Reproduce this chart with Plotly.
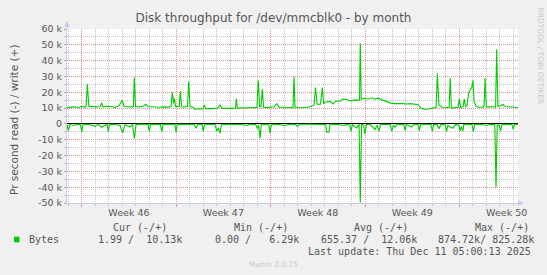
import pandas as pd
import plotly.graph_objects as go

# ---------------- data ----------------
BASE = "2025-11-09 00:00"          # first major (weekly) grid line
range_days = [-1.09, 32.34]        # visible period, days relative to BASE

write_days = [-1.09, -0.87, -0.57, -0.27, 0.02, 0.24, 0.32, 0.42, 0.53, 0.76,
              1.06, 1.36, 1.48, 1.58, 1.88, 2.17, 2.47, 2.77, 2.99, 3.14,
              3.43, 3.73, 3.83, 3.90, 3.99, 4.25, 4.54, 4.74, 4.91, 5.21,
              5.51, 5.80, 6.10, 6.40, 6.62, 6.72, 6.80, 6.87, 6.96, 7.14,
              7.23, 7.31, 7.40, 7.58, 7.84, 7.93, 8.03, 8.25, 8.40, 8.70,
              8.99, 9.09, 9.21, 9.51, 9.81, 10.10, 10.25, 10.40, 10.70, 10.99,
              11.29, 11.40, 11.46, 11.53, 11.81, 12.11, 12.40, 12.70, 12.99, 13.09,
              13.19, 13.29, 13.39, 13.48, 13.74, 14.03, 14.26, 14.46, 14.63, 14.92,
              15.22, 15.52, 15.66, 15.74, 15.81, 16.11, 16.40, 16.70, 17.00, 17.22,
              17.33, 17.45, 17.60, 17.70, 17.84, 17.93, 18.11, 18.41, 18.63, 18.85,
              19.15, 19.37, 19.67, 19.96, 20.26, 20.48, 20.59, 20.65, 20.72, 20.93,
              21.22, 21.52, 21.74, 21.96, 22.26, 22.56, 22.85, 23.15, 23.45, 23.74,
              24.04, 24.34, 24.63, 24.93, 25.16, 25.45, 25.75, 26.05, 26.27, 26.36,
              26.48, 26.71, 27.01, 27.23, 27.32, 27.40, 27.67, 27.89, 27.99, 28.08,
              28.27, 28.36, 28.45, 28.56, 28.69, 28.80, 28.91, 29.00, 29.09, 29.24,
              29.46, 29.76, 29.83, 29.90, 29.99, 30.19, 30.42, 30.68, 30.76, 30.85,
              31.01, 31.25, 31.38, 31.67, 31.97, 32.34]
write_kbytes = [10.3, 10.5, 10.8, 10.4, 11.0, 10.6, 10.8, 25.0, 11.0, 11.2,
                10.8, 11.0, 13.4, 10.8, 11.2, 11.0, 10.4, 11.5, 15.0, 11.0,
                10.8, 10.8, 11.0, 29.4, 11.0, 10.8, 11.2, 12.4, 11.0, 10.8,
                11.0, 10.5, 10.8, 10.6, 11.0, 20.0, 13.0, 16.0, 11.0, 11.0,
                11.0, 20.6, 11.0, 10.8, 11.0, 27.0, 11.0, 10.5, 9.3, 9.6,
                9.4, 12.0, 9.5, 9.8, 9.6, 10.2, 12.0, 9.8, 9.7, 10.0,
                9.8, 10.0, 16.0, 10.0, 10.1, 9.8, 10.2, 10.0, 10.4, 27.6,
                11.0, 11.0, 21.9, 10.5, 10.3, 10.6, 10.8, 12.8, 10.6, 10.5,
                10.2, 10.4, 10.3, 29.7, 10.6, 10.2, 10.1, 10.4, 11.2, 12.0,
                23.0, 12.5, 12.4, 12.5, 23.0, 13.0, 13.8, 14.2, 12.6, 14.5,
                14.3, 15.8, 15.3, 14.5, 15.2, 14.8, 15.0, 51.0, 15.5, 16.2,
                15.8, 16.5, 15.6, 16.3, 15.2, 14.3, 13.3, 12.8, 13.0, 12.9,
                12.6, 12.8, 12.5, 12.3, 9.8, 9.3, 9.4, 10.0, 10.5, 31.9,
                12.0, 10.5, 10.6, 10.4, 29.0, 10.0, 10.3, 10.4, 16.0, 10.4,
                10.8, 15.7, 11.0, 11.5, 20.0, 22.0, 23.0, 27.6, 14.0, 11.0,
                10.5, 10.6, 12.0, 29.0, 11.0, 10.6, 11.0, 10.6, 47.2, 11.0,
                11.5, 12.3, 11.0, 10.8, 10.2, 10.4]

read_days = [-1.09, -0.99, -0.87, -0.57, -0.35, -0.09, 0.00, 0.10, 0.47, 0.99,
             1.21, 1.48, 1.65, 1.88, 1.97, 2.06, 2.47, 2.84, 3.04, 3.21,
             3.58, 3.77, 3.90, 4.03, 4.47, 4.91, 5.01, 5.10, 5.51, 5.84,
             5.93, 6.03, 6.55, 6.91, 6.99, 7.09, 7.58, 8.03, 8.33, 8.47,
             8.62, 8.92, 9.01, 9.11, 9.51, 9.88, 10.01, 10.13, 10.25, 10.36,
             10.85, 11.36, 11.81, 12.23, 12.48, 12.89, 13.02, 13.11, 13.22, 13.31,
             13.59, 13.86, 13.96, 14.06, 14.55, 15.07, 15.44, 15.81, 15.98, 16.18,
             16.78, 17.30, 17.66, 18.07, 18.16, 18.31, 18.41, 18.93, 19.39, 19.67,
             19.87, 19.97, 20.06, 20.38, 20.56, 20.65, 20.74, 20.90, 21.00, 21.10,
             21.37, 21.74, 21.89, 22.04, 22.15, 22.56, 22.88, 22.98, 23.11, 23.22,
             23.37, 23.87, 23.97, 24.06, 24.46, 24.63, 24.93, 25.03, 25.12, 25.52,
             25.89, 25.99, 26.09, 26.34, 26.48, 26.63, 26.95, 27.04, 27.14, 27.42,
             27.54, 27.71, 27.95, 28.04, 28.14, 28.24, 28.33, 28.71, 28.93, 29.03,
             29.13, 29.53, 30.02, 30.27, 30.62, 30.71, 30.80, 30.96, 31.05, 31.15,
             31.59, 31.89, 31.99, 32.08, 32.34]
read_kbytes = [-0.3, -4.3, -0.4, -1.0, -0.2, -0.3, -5.3, -0.3, -0.2, -1.5,
               -0.3, -2.1, -1.2, -0.3, -4.7, -0.3, -0.2, -1.0, -5.7, -0.4,
               -2.0, -0.3, -9.2, -0.3, -0.2, -0.3, -4.7, -0.3, -0.2, -0.3,
               -4.9, -0.3, -0.2, -0.3, -5.3, -0.3, -0.2, -0.2, -0.3, -2.8,
               -0.3, -0.4, -4.7, -0.3, -0.2, -0.4, -4.5, -2.5, -6.0, -0.3,
               -0.2, -0.2, -0.4, -1.0, -0.3, -0.4, -3.0, -0.8, -9.2, -0.3,
               -0.2, -0.3, -5.7, -0.3, -0.2, -1.0, -0.2, -0.3, -1.5, -0.2,
               -0.2, -0.3, -0.2, -0.4, -5.3, -5.3, -0.3, -0.2, -1.0, -0.3,
               -0.8, -4.7, -0.4, -2.5, -0.3, -49.6, -0.4, -0.8, -6.4, -0.4,
               -0.3, -3.5, -0.8, -4.5, -0.3, -0.2, -0.4, -4.5, -1.0, -2.0,
               -0.3, -0.4, -4.3, -0.3, -2.0, -0.3, -0.4, -4.3, -0.3, -0.2,
               -0.4, -4.7, -0.3, -0.4, -3.0, -0.3, -0.5, -4.9, -1.0, -2.5,
               -2.5, -0.3, -0.8, -4.5, -1.5, -4.5, -0.3, -0.2, -0.4, -4.9,
               -0.3, -0.2, -1.0, -0.3, -0.4, -40.0, -0.8, -0.8, -4.5, -0.3,
               -0.2, -0.3, -3.5, -0.3, -0.3]

week_start_days = [0, 7, 14, 21, 28]
week_center_days = [3.5, 10.5, 17.5, 24.5, 31.5]
week_labels = ["Week 46", "Week 47", "Week 48", "Week 49", "Week 50"]

y_tick_vals = [-50000, -40000, -30000, -20000, -10000, 0,
               10000, 20000, 30000, 40000, 50000, 60000]
y_tick_text = ["-50 k", "-40 k", "-30 k", "-20 k", "-10 k", "0",
               "10 k", "20 k", "30 k", "40 k", "50 k", "60 k"]
y_range = [-50000, 60000]

title_text = "Disk throughput for /dev/mmcblk0 - by month"
y_title = "Pr second read (-) / write (+)"
series_name = "Bytes"
legend_headers = ["Cur (-/+)", "Min (-/+)", "Avg (-/+)", "Max (-/+)"]
legend_values = ["1.99 /  10.13k", "0.00 /   6.29k", "655.37 /  12.06k", "874.72k/ 825.28k"]
last_update = "Last update: Thu Dec 11 05:00:13 2025"
watermark = "RRDTOOL / TOBI OETIKER"
footer = "Munin 2.0.75"

# ---------------- build ----------------
base = pd.Timestamp(BASE)
def to_time(days):
    return base + pd.to_timedelta(pd.Series(days, dtype=float), unit="D")

write_t = to_time(write_days)
read_t = to_time(read_days)
x_range = list(to_time(range_days))
week_ticks = list(to_time(week_start_days))
week_centers = list(to_time(week_center_days))

W, H = 547, 275
L, R, T, B = 67, 29, 29, 72
PW, PH = W - L - R, H - T - B

def px_x(px):
    return (px - L) / PW

def px_y(py):
    return (H - B - py) / PH

GREEN = "#00cc00"
TXT = "#555555"
MGRID = "#e28f8f"
GRID = "#c4c4c4"
AXIS = "#c8c8f0"
SANS = "DejaVu Sans"
MONO = "DejaVu Sans Mono"

fig = go.Figure()
fig.add_trace(go.Scatter(x=read_t, y=[v * 1000 for v in read_kbytes], mode="lines",
                         line=dict(color=GREEN, width=1.1), name="read",
                         showlegend=False))
fig.add_trace(go.Scatter(x=write_t, y=[v * 1000 for v in write_kbytes], mode="lines",
                         line=dict(color=GREEN, width=1.1), name="write",
                         showlegend=False))
# invisible carrier trace for the week-label axis
fig.add_trace(go.Scatter(x=week_centers, y=[0] * len(week_centers), xaxis="x2",
                         mode="markers", marker=dict(opacity=0), hoverinfo="skip",
                         showlegend=False))

fig.update_layout(
    width=W, height=H,
    margin=dict(l=L, r=R, t=T, b=B, pad=0),
    paper_bgcolor="#f0f0f0",
    plot_bgcolor="#ffffff",
    showlegend=False,
    title=dict(text=title_text, x=0.5, xanchor="center", xref="container",
               y=1 - 18 / H, yanchor="middle", yref="container",
               font=dict(family=SANS, size=12, color=TXT)),
    xaxis=dict(type="date", range=x_range, tickvals=week_ticks, showticklabels=False,
               showgrid=True, gridcolor=MGRID, griddash="1px,1px", gridwidth=1,
               ticks="outside", ticklen=3, tickcolor=MGRID,
               showline=True, linecolor=AXIS, linewidth=1, zeroline=False,
               minor=dict(dtick=86400000, tick0=BASE, showgrid=True, gridcolor=GRID,
                          griddash="1px,1px", gridwidth=1, ticks="outside",
                          ticklen=2, tickcolor=GRID)),
    xaxis2=dict(type="date", range=x_range, overlaying="x", anchor="y", side="bottom",
                tickvals=week_centers, ticktext=week_labels, showgrid=False,
                ticks="", showline=False, zeroline=False, ticklabelstandoff=2,
                tickfont=dict(family=SANS, size=9.5, color=TXT)),
    yaxis=dict(range=y_range, tickvals=y_tick_vals, ticktext=y_tick_text,
               showgrid=True, gridcolor=MGRID, griddash="1px,1px", gridwidth=1,
               ticks="outside", ticklen=2, tickcolor=MGRID,
               tickfont=dict(family=SANS, size=9.5, color=TXT),
               showline=True, linecolor=AXIS, linewidth=1,
               zeroline=True, zerolinecolor="#000000", zerolinewidth=1,
               minor=dict(dtick=5000, tick0=0, showgrid=True, gridcolor=GRID,
                          griddash="1px,1px", gridwidth=1, ticks="outside",
                          ticklen=2, tickcolor=GRID)),
)

ann = []
ann.append(dict(text=y_title, xref="paper", yref="paper", x=px_x(14), y=px_y(120),
                xanchor="center", yanchor="middle", textangle=-90, showarrow=False,
                font=dict(family=SANS, size=10.5, color=TXT)))
ann.append(dict(text=watermark, xref="paper", yref="paper", x=px_x(540), y=px_y(5),
                xanchor="center", yanchor="top", textangle=90, showarrow=False,
                font=dict(family=SANS, size=7.5, color="#c8c8c8")))
header_x = [111, 231.7, 352.3, 473]
value_x = [96, 213.3, 319, 436.3]
for hx, htxt in zip(header_x, legend_headers):
    ann.append(dict(text=htxt.replace(" ", "\u00a0"), xref="paper", yref="paper",
                    x=px_x(hx), y=px_y(227.7), xanchor="left", yanchor="middle",
                    showarrow=False, font=dict(family=MONO, size=10, color=TXT)))
for vx, vtxt in zip(value_x, legend_values):
    ann.append(dict(text=vtxt.replace(" ", "\u00a0"), xref="paper", yref="paper",
                    x=px_x(vx), y=px_y(239.3), xanchor="left", yanchor="middle",
                    showarrow=False, font=dict(family=MONO, size=10, color=TXT)))
ann.append(dict(text=series_name, xref="paper", yref="paper", x=px_x(26.5), y=px_y(239.3),
                xanchor="left", yanchor="middle", showarrow=False,
                font=dict(family=MONO, size=10, color=TXT)))
ann.append(dict(text=last_update.replace(" ", "\u00a0"), xref="paper", yref="paper",
                x=px_x(533), y=px_y(251), xanchor="right", yanchor="middle",
                showarrow=False, font=dict(family=MONO, size=10, color=TXT)))
ann.append(dict(text=footer, xref="paper", yref="paper", x=px_x(273), y=px_y(264),
                xanchor="center", yanchor="middle", showarrow=False,
                font=dict(family=SANS, size=7.5, color="#c8c8c8")))
fig.update_layout(annotations=ann)

shapes = []
# legend colour box
shapes.append(dict(type="rect", xref="paper", yref="paper",
                   x0=px_x(14), x1=px_x(19.5), y0=px_y(242.3), y1=px_y(236.7),
                   fillcolor=GREEN, line=dict(width=0)))
# axis arrows
shapes.append(dict(type="line", xref="paper", yref="paper",
                   x0=0, x1=0, y0=1, y1=px_y(25), line=dict(color=AXIS, width=1)))
shapes.append(dict(type="path", xref="paper", yref="paper",
                   path=f"M {px_x(64.5)} {px_y(26.5)} L {px_x(67)} {px_y(21.5)} L {px_x(69.5)} {px_y(26.5)} Z",
                   fillcolor=AXIS, line=dict(color=AXIS, width=0.5)))
shapes.append(dict(type="line", xref="paper", yref="paper",
                   x0=1, x1=px_x(520), y0=0, y1=0, line=dict(color=AXIS, width=1)))
shapes.append(dict(type="path", xref="paper", yref="paper",
                   path=f"M {px_x(518.5)} {px_y(200.5)} L {px_x(523.5)} {px_y(203)} L {px_x(518.5)} {px_y(205.5)} Z",
                   fillcolor=AXIS, line=dict(color=AXIS, width=0.5)))
fig.update_layout(shapes=shapes)

fig.write_html("out.html")
